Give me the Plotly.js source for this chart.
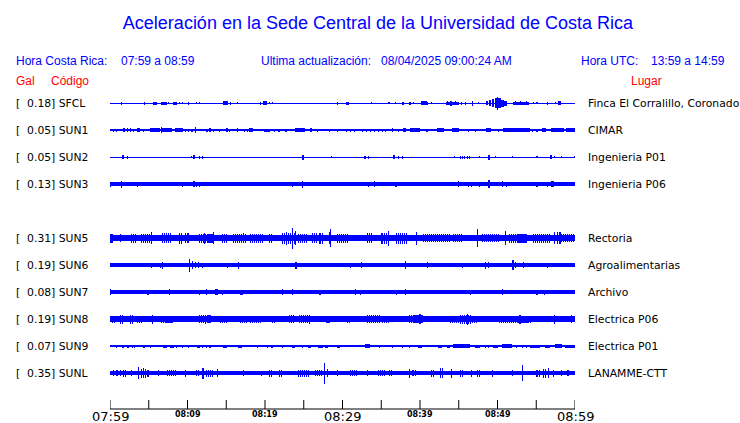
<!DOCTYPE html>
<html><head><meta charset="utf-8">
<script src="https://cdn.plot.ly/plotly-3.0.1.min.js"></script>
<style>html,body{margin:0;padding:0;background:#fff}#chart{width:740px;height:423px}</style>
</head><body><div id="chart"></div>
<script>
// ---------- DATA ----------
const chartTitle = 'Aceleración en la Sede Central de la Universidad de Costa Rica';
const localRange = '07:59 a 08:59';
const utcRange = '13:59 a 14:59';
const lastUpdate = '08/04/2025 09:00:24 AM';

const stationCodes  = ['SFCL','SUN1','SUN2','SUN3','SUN5','SUN6','SUN7','SUN8','SUN9','SUNL'];
const stationPlaces = ['Finca El Corralillo, Coronado','CIMAR','Ingenieria P01','Ingenieria P06','Rectoria',
                       'Agroalimentarias','Archivo','Electrica P06','Electrica P01','LANAMME-CTT'];
const peakGal       = [0.18,0.05,0.05,0.13,0.31,0.19,0.08,0.19,0.07,0.35];
// background noise level (half amplitude of the continuous band)
const noiseLevel    = [0.5,1.0,0.5,1.7,3.3,1.9,1.8,2.7,0.6,2.2];

// events: [minute, halfAmp] for a spike or [startMin, endMin, halfAmp] for a burst (minutes after 07:59)
const evSFCL = [[1.5,1.5],[4.5,1.5],[5.5,6.1,1.5],[6.6,7.4,1.5],[7.6,1],[8.1,8.6,1.5],[9.0,1],[9.3,1],[10.1,1.5],[11.2,1],[11.6,1],
  [14.6,15.2,2],[15.5,1.5],[16.5,1],[19.4,1.5],[19.7,20.3,2],[20.6,1],[21.0,1],[29.4,1.5],[30.5,30.8,1.5],[33.8,1],[35.9,1],[36.0,1],
  [36.8,1],[37.7,37.9,1.5],[38.6,38.8,1.5],[39.2,1],[40.1,40.9,2],[41.0,1.5],[41.5,1],[43.4,45.0,1.5],[43.6,2],[44.0,2.5],[44.6,2],
  [45.4,1.5],[45.9,1.5],[46.8,2.5],[47.5,1],[48.5,48.8,2],[48.9,49.2,3],[49.3,49.6,4],[49.7,49.9,5],[50.0,6.5],[50.1,50.4,5],
  [50.5,50.8,3.5],[50.9,51.2,2.5],[52.0,54.1,1.5],[52.3,2],[53.0,2],[53.7,2],[54.7,1],[55.1,1],[56.4,1.5],[57.5,1],[57.8,58.2,2]];
const evSUN1 = [[0.4,1.5],[0.8,1.5],[1.7,2],[1.9,2],[2.3,2],[2.7,2],[3.0,1.5],[3.5,3.9,2],[4.3,1.5],[5.2,6.5,2],[6.6,8.0,2],[6.7,3],
  [8.4,9.4,2],[9.8,1.5],[10.1,1.5],[10.5,1.5],[10.7,1.5],[11.0,3],[12.4,12.6,1.5],[12.9,2],[13.3,1.5],[14.1,1.5],[15.1,2],[15.4,1.5],
  [16.5,2],[17.4,1.5],[17.7,1.5],[17.9,18.5,2],[19.9,20.6,1.5],[21.2,1.5],[21.7,1.5],[21.9,1.5],[22.6,1.5],[22.8,1.5],[23.9,25.2,2],
  [25.8,26.1,2],[26.8,1.5],[28.3,1.5],[29.4,1.5],[30.5,1.5],[31.0,1.5],[31.5,1.5],[32.6,1.5],[33.1,1.5],[33.6,1.5],[34.1,1.5],
  [34.6,1.5],[35.2,1.5],[35.6,1.5],[36.5,2],[37.2,1.5],[37.8,38.2,2],[38.7,40.0,2],[40.9,1.5],[42.2,43.1,2],[44.1,45.0,2],[46.2,1.5],
  [47.2,1.5],[48.5,49.2,2],[50.1,1.5],[50.7,54.2,2],[54.5,1.5],[55.1,1.5],[55.7,56.3,2],[56.9,58.6,2],[58.8,60,2]];
const evSUN2 = [[1.5,1.8,2],[2.2,1.5],[10.5,1],[10.7,11.0,2],[11.6,1.5],[11.9,1.5],[24.8,25.0,2.5],[28.6,1],[32.9,1.5],[33.4,1.5],
  [36.5,36.8,2],[37.2,1.5],[37.7,1.5],[44.5,1],[45.2,1.5],[45.5,1.5],[45.8,1.5],[46.1,1.5],[46.4,1.5],[47.7,1],[48.9,2.5],[49.7,1],
  [51.9,1],[55.1,1],[56.9,2],[57.4,1],[58.3,1],[59.9,1]];
const evSUN3 = [[0.0,2.5],[1.5,3.5],[3.5,2.5],[9.3,2.5],[10.7,11.0,3],[11.2,2.5],[11.6,2.5],[23.6,2.5],[24.8,3.5],[26.1,2.2],[27.1,2.2],
  [33.3,2.5],[34.1,3],[36.9,2.5],[43.6,2.2],[45.0,3],[46.3,2.5],[46.6,2.5],[47.1,2.2],[47.7,2.5],[48.9,4],[49.7,2.2],[50.7,3],
  [51.2,2.5],[55.1,2.5],[56.4,2.5],[56.9,57.3,3]];
const evSUN5 = [[0,0.3,4.5],[1.3,4],[2.8,3.5,4.5],[4.1,5.5,4.5],[5.4,6],[6.8,8.0,5],[9.0,9.3,5.5],[9.8,10.3,5],[11.6,13.3,4.5],[12.2,5.5],
  [13.3,6],[14.5,15.1,4.5],[15.9,17.7,4.5],[17.2,5],[18.1,19.7,4.5],[20.6,21.0,4.5],[22.3,24.1,5.5],[22.8,6.5],[23.5,10.5],[23.9,7],
  [24.3,25.4,4.5],[26.1,26.7,5],[27.1,27.5,5.5],[28.3,6],[28.5,9],[29.3,30.6,4.5],[33.2,33.9,5],[35.1,36.1,5.5],[35.9,7.5],
  [37.0,38.3,5.5],[39.5,6.5],[40.4,43.9,4],[44.3,45.5,4],[47.4,9],[48.1,50.3,4],[51.0,7],[51.6,53.8,4.5],[54.6,56.8,4.5],[57.4,6],
  [57.8,58.2,6],[58.2,60,4]];
const evSUN6 = [[0.4,2],[0.9,2],[1.4,2],[5.4,2.5],[6.5,2.5],[6.8,3.5],[8.6,2],[10.3,6.5],[10.7,4],[11.0,3],[11.4,3],[11.9,2.5],[13.3,2],
  [14.2,2],[15.2,2.5],[16.6,3.5],[20.9,2],[24.0,3.5],[27.2,2],[28.8,2],[31.0,2.5],[32.5,3],[38.1,4],[39.6,2],[41.0,3],[41.9,2],[43.2,2],
  [45.5,2.5],[48.4,3.5],[48.8,3],[52.0,5],[52.3,3],[53.4,3],[54.5,2],[56.5,2.5],[59.7,2]];
const evSUN7 = [[0.1,3],[4.9,2.5],[6.1,2.2],[7.7,3],[9.7,2.2],[11.6,2.5],[12.5,3],[12.9,2.2],[13.5,13.9,3],[14.5,2.5],[15.4,2.2],
  [16.8,17.2,2.5],[18.1,2.2],[20.4,2.2],[22.3,3],[23.5,3],[24.9,2.2],[27.1,2.5],[31.0,2.2],[31.7,3],[32.3,2.5],[34.5,2.2],[37.0,2.5],
  [38.1,3],[40.4,2.2],[46.5,2.5],[48.8,2.2],[49.7,2.2],[50.6,3],[55.1,2.5],[56.1,2.5]];
const evSUN8 = [[0.3,0.6,3.5],[1.3,1.7,4.5],[2.6,3.0,4.5],[3.5,4.1,3.5],[5.5,4.5],[6.7,8.0,3.5],[9.0,3],[10.1,3],[11.6,12.9,4],[12.3,4.5],
  [14.2,15.1,3.5],[16.8,17.7,3.5],[18.1,19.4,3.5],[21.0,21.5,3.5],[23.2,23.9,4],[24.5,25.8,4],[25.8,4.5],[28.0,28.4,3.5],[30.6,31.0,3.5],
  [33.2,34.8,4],[35.2,36.1,3.5],[38.7,40.4,4],[40.0,5],[43.0,3],[43.9,47.4,3.5],[45.2,46.5,4.5],[46.1,5.5],[50.3,54.2,3.5],[52.9,4.5],
  [57.4,4.5],[59.5,4]];
const evSUN9 = [[0.8,1.5],[1.5,1.8,1.5],[2.2,2.5,1.5],[2.8,3.0,1.5],[3.2,1.5],[4.3,1.5],[4.5,1.5],[5.2,1.5],[6.8,7.4,1.5],[7.7,8.3,1.5],
  [8.6,1.5],[9.3,1.5],[10.1,1.5],[11.2,11.6,1.5],[11.9,12.0,1.5],[12.5,1.5],[12.9,1.5],[14.6,15.1,1.5],[16.5,17.0,1.5],[19.0,1.5],
  [20.3,1.5],[20.9,1.5],[22.2,1.5],[22.3,1.5],[23.5,23.9,1.5],[24.8,24.9,1.5],[25.5,25.9,1.5],[26.8,27.5,1.5],[27.7,28.1,1.5],
  [29.3,29.7,1.5],[32.9,33.5,2],[34.8,1.5],[36.5,1.5],[37.7,1.5],[38.7,1.5],[39.7,40.3,1.5],[42.3,42.8,1.5],[43.5,43.9,1.5],
  [44.3,46.5,2],[47.1,47.7,1.5],[48.4,1.5],[48.8,1.5],[49.4,50.1,1.5],[50.6,51.9,2],[52.5,1.5],[53.2,1.5],[53.7,1.5],[54.2,55.5,1.5],
  [56.1,56.8,1.5],[57.4,58.3,2],[58.7,60,1.5]];
const evSUNL = [[0.4,3],[0.9,3],[1.3,3],[1.7,2.1,3.5],[2.8,3.0,3],[3.7,5.7],[4.1,4.8,4.5],[4.3,5],[4.9,3.5],[6.2,3],[7.4,8.6,3],[9.7,3.5],
  [11.2,11.6,3],[11.9,4],[12.0,5.5],[12.5,13.5,3.5],[13.9,4],[17.2,3],[19.6,2.5],[20.6,20.9,3.5],[21.9,22.2,3.5],[24.3,25.8,3.5],
  [26.5,27.4,3],[27.7,10.5],[28.1,4],[29.3,3],[31.0,31.9,3],[33.2,3],[34.6,35.5,3],[36.1,36.5,3],[38.7,4.5],[39.1,39.6,3],
  [41.5,41.9,3.5],[42.6,43.0,5],[44.1,4.5],[45.2,45.5,3.5],[46.7,3.5],[47.4,47.7,3.5],[49.3,3.5],[51.9,3],[53.2,8],[55.1,55.5,3.5],
  [55.9,56.4,4.5],[56.6,5],[57.2,3.5],[58.3,3],[59.1,3]];
const stationEvents = [evSFCL,evSUN1,evSUN2,evSUN3,evSUN5,evSUN6,evSUN7,evSUN8,evSUN9,evSUNL];

const tickMinutes = [0,5,10,15,20,25,30,35,40,45,50,55,60];
const majorTicks  = [0,30,60];
const majorLabels = ['07:59','08:29','08:59'];
const minorTicks  = [10,20,40,50];
const minorLabels = ['08:09','08:19','08:39','08:49'];

// ---------- LAYOUT ----------
const W = 740, H = 423, PL = 110, PR = 575, PT = 90, PB = 409;
const ROW_SLOT = [0,1,2,3,5,6,7,8,9,10];   // slot 4 is an empty station row
const ROW_TOP_PX = 103, ROW_STEP = 27;
const rowCenter = s => (PB - ROW_TOP_PX) - ROW_STEP * s;   // y units = px above plot bottom
const px = x => (x - PL) / (PR - PL);
const py = y => (PB - y) / (PB - PT);
const BLUE = '#0000ff';
const SPIKE_W = 0.14, COMB_STEP = 0.26;
const TICK_LEN = 9;

const traces = stationCodes.map((code, i) => {
  const c = rowCenter(ROW_SLOT[i]);
  const n = noiseLevel[i];
  const comb = n >= 2;   // noisy stations: bursts drawn as dense spikes
  const xs = [30], ws = [60], bs = [c - n], hs = [2 * n];
  const push = (t0, t1, a) => { xs.push((t0 + t1) / 2); ws.push(Math.max(t1 - t0, SPIKE_W)); bs.push(c - a); hs.push(2 * a); };
  stationEvents[i].forEach(e => {
    if (e.length === 2) { push(e[0] - SPIKE_W / 2, e[0] + SPIKE_W / 2, e[1]); return; }
    if (!comb) { push(e[0], e[1], e[2]); return; }
    for (let t = e[0]; t <= e[1] + 1e-9; t += COMB_STEP) push(t - SPIKE_W / 2, t + SPIKE_W / 2, e[2]);
  });
  return { type: 'bar', name: code, x: xs, y: hs, base: bs, width: ws,
           marker: { color: BLUE, line: { width: 0 } }, hoverinfo: 'skip', showlegend: false };
});

const ann = [];
const addText = (text, x, y, font, anchor) => ann.push({
  text, x: px(x), y: py(y), xref: 'paper', yref: 'paper', xanchor: anchor || 'left', yanchor: 'middle',
  showarrow: false, font, borderpad: 0 });
const hdr = { family: 'Liberation Sans, Arial, sans-serif', size: 12, color: BLUE };
const red = { family: 'Liberation Sans, Arial, sans-serif', size: 12, color: '#ff0000' };
const lbl = { family: 'DejaVu Sans, sans-serif', size: 10.8, color: '#000' };
addText('Hora Costa Rica:', 15, 61, hdr);
addText(localRange, 119.5, 61, hdr);
addText('Ultima actualización:', 259.5, 61, hdr);
addText(lastUpdate, 379.5, 61, hdr);
addText('Hora UTC:', 579.5, 61, hdr);
addText(utcRange, 649.5, 61, hdr);
addText('Gal', 15, 81, red);
addText('Código', 50, 81, red);
addText('Lugar', 630, 81, red);
stationCodes.forEach((code, i) => {
  const yPx = PB - rowCenter(ROW_SLOT[i]);
  addText('[' + peakGal[i].toFixed(2).padStart(6, '\u00A0') + '] ' + code, 14.5, yPx, lbl);
  addText(stationPlaces[i], 587, yPx, lbl);
});
// time tick labels, placed at the tick minutes on the x axis
majorTicks.forEach((t, k) => ann.push({ text: majorLabels[k], x: t, xref: 'x', y: py(416.2), yref: 'paper',
  xanchor: 'center', yanchor: 'middle', showarrow: false, borderpad: 0,
  font: { family: 'DejaVu Sans, sans-serif', size: 13, color: '#000' } }));
minorTicks.forEach((t, k) => ann.push({ text: minorLabels[k], x: t, xref: 'x', y: py(414.8), yref: 'paper',
  xanchor: 'center', yanchor: 'middle', showarrow: false, borderpad: 0,
  font: { family: 'DejaVu Sans, sans-serif', size: 8, weight: 'bold', color: '#000' } }));

// time axis drawn as line + tick marks (ticks point up into the plot)
const shapes = [{ type: 'line', xref: 'x', yref: 'paper', x0: 0, x1: 60, y0: 0, y1: 0,
                  line: { color: '#000', width: 1 }, layer: 'above' }];
tickMinutes.forEach(t => shapes.push({ type: 'line', xref: 'x', yref: 'paper', x0: t, x1: t,
  y0: 0, y1: TICK_LEN / (PB - PT), line: { color: '#000', width: 1 }, layer: 'above' }));

const layout = {
  width: W, height: H,
  margin: { l: PL, r: W - PR, t: PT, b: H - PB, pad: 0 },
  paper_bgcolor: '#fff', plot_bgcolor: '#fff',
  barmode: 'overlay', bargap: 0,
  title: { text: chartTitle, font: { family: 'Liberation Sans, Arial, sans-serif', size: 18, color: BLUE },
           x: 378 / W, xanchor: 'center', xref: 'container', y: 1 - 23 / H, yanchor: 'middle', yref: 'container' },
  xaxis: { range: [0, 60], showline: false, ticks: '', showticklabels: false,
           showgrid: false, zeroline: false, fixedrange: true, anchor: 'y' },
  yaxis: { range: [0, PB - PT], visible: false, fixedrange: true, showgrid: false, zeroline: false },
  shapes: shapes,
  annotations: ann
};

Plotly.newPlot('chart', traces, layout, { staticPlot: true, displayModeBar: false });
</script></body></html>
